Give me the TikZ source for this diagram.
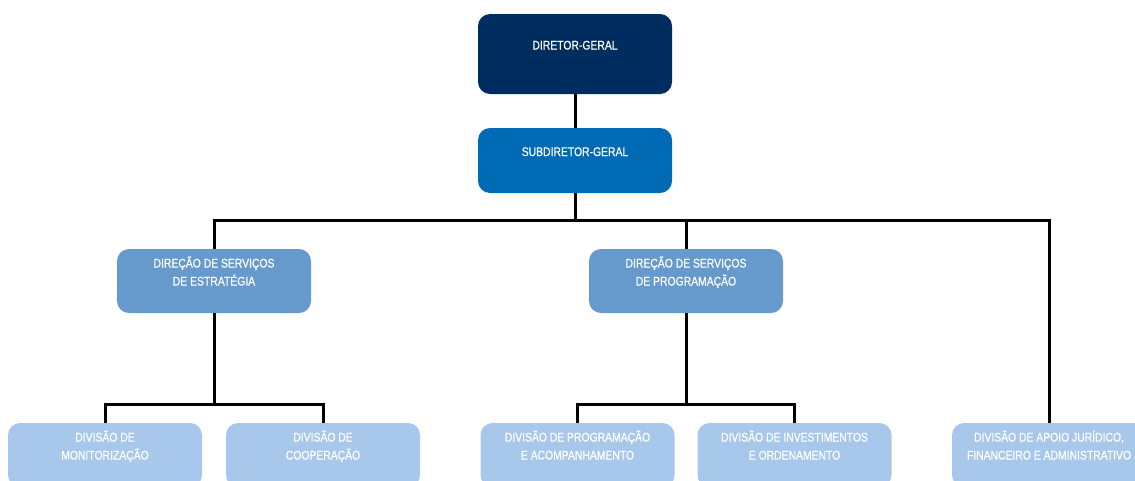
\documentclass[tikz,border=0pt]{standalone}
\usepackage{fontspec}
\setmainfont{Liberation Sans}[FakeStretch=0.83,FakeBold=0.6]
\usepackage{tikz}

\definecolor{navy}{HTML}{002D5F}
\definecolor{midblue}{HTML}{006AB4}
\definecolor{steel}{HTML}{6699CC}
\definecolor{pale}{HTML}{A8C8EB}

\begin{document}
\begin{tikzpicture}[x=1pt,y=-1pt,
    box/.style={rounded corners=12pt,minimum width=194pt,inner sep=0pt,
      text=white,align=center,font=\fontsize{12.5}{18}\selectfont},
    one/.style={text height=9pt,text depth=18pt},
    two/.style={text height=27pt,text depth=18pt},
    link/.style={line width=3pt,black}]
        \useasboundingbox (0,0) rectangle (1135,480);
        \clip (0,0) rectangle (1135,480);
        % top of the chart
        \node[box,one,fill=navy,minimum height=80pt] (dg) at (575,54) {DIRETOR-GERAL};
        \node[box,one,fill=midblue,minimum height=65pt] (sdg) at (575,160.5) {SUBDIRETOR-GERAL};
        % direcoes de servicos
        \node[box,two,fill=steel,minimum height=64pt] (dse) at (214,281) {DIREÇÃO DE SERVIÇOS\\DE ESTRATÉGIA};
        \node[box,two,fill=steel,minimum height=64pt] (dsp) at (686,281) {DIREÇÃO DE SERVIÇOS\\DE PROGRAMAÇÃO};
        % divisoes
        \node[box,two,fill=pale,minimum height=64pt] (dmon) at (105,455) {DIVISÃO DE\\MONITORIZAÇÃO};
        \node[box,two,fill=pale,minimum height=64pt] (dcoop) at (323,455) {DIVISÃO DE\\COOPERAÇÃO};
        \node[box,two,fill=pale,minimum height=64pt] (dprog) at (577.5,455) {DIVISÃO DE PROGRAMAÇÃO\\E ACOMPANHAMENTO};
        \node[box,two,fill=pale,minimum height=64pt] (dinv) at (794.5,455) {DIVISÃO DE INVESTIMENTOS\\E ORDENAMENTO};
        \node[box,two,fill=pale,minimum height=64pt] (dapoio) at (1049,455) {DIVISÃO DE APOIO JURÍDICO,\\FINANCEIRO E ADMINISTRATIVO};
        % routine for the connectors
        \coordinate (bus) at (575,220);
        \coordinate (buse) at (214,404);
        \coordinate (busp) at (686,404);
        \draw[link] (dg) -- (sdg);
        \draw[link] (sdg) -- (bus);
        \draw[link] (dse.north) |- (bus) -| (dapoio.north);
        \draw[link] (dsp.north) -- (dsp.north |- bus);
        \draw[link] (dse) -- (buse);
        \draw[link] (dmon.north) |- (buse) -| (dcoop.north);
        \draw[link] (dsp) -- (busp);
        \draw[link] (dprog.north) |- (busp) -| (dinv.north);
\end{tikzpicture}
\end{document}
